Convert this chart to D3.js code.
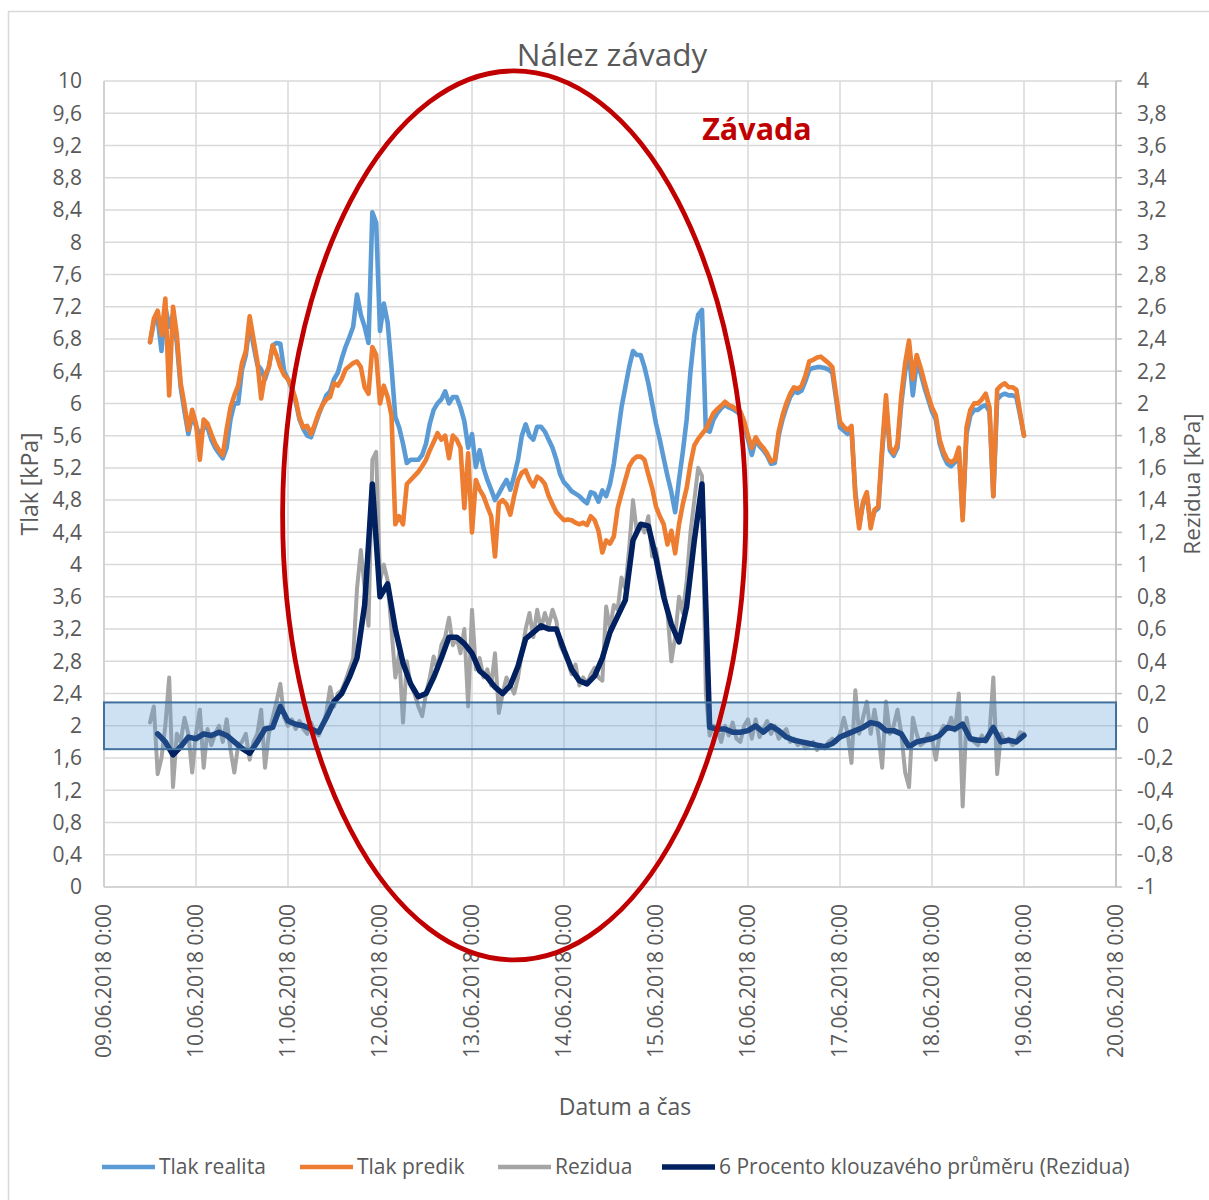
<!DOCTYPE html>
<html>
<head>
<meta charset="utf-8">
<script src="https://cdn.jsdelivr.net/npm/d3@7"></script>
<style>
  html, body { margin: 0; padding: 0; background: #fff; }
  svg { display: block; }
  text { font-family: "Open Sans", Lato, sans-serif; fill: #595959; }
</style>
</head>
<body>
<svg id="chart" width="1209" height="1200"></svg>
<script>
// Hourly measurements, starting 09.06.2018 12:00
const seriesStart = Date.UTC(2018, 5, 9, 12);
const stepHours = 1;
// the moving-average trend is stored every 2 hours from the same start
const trendStepHours = 2;

// Measured pressure [kPa]
const tlakRealita = [
  6.76, 7.0, 7.05, 6.65, 7.2, 6.95, 7.1, 6.75, 6.2, 5.9, 5.62, 5.85,
  5.72, 5.6, 5.7, 5.7, 5.55, 5.45, 5.38, 5.32, 5.45, 5.8, 6.0, 6.0,
  6.42, 6.6, 6.98, 6.72, 6.48, 6.42, 6.3, 6.45, 6.72, 6.75, 6.74, 6.4,
  6.3, 6.18, 6.02, 5.8, 5.68, 5.6, 5.58, 5.72, 5.86, 5.98, 6.1, 6.15,
  6.3, 6.38, 6.55, 6.7, 6.82, 6.95, 7.35, 7.1, 6.95, 6.75, 8.37, 8.24,
  6.9, 7.24, 7.0, 6.45, 5.83, 5.7, 5.5, 5.26, 5.3, 5.3, 5.3, 5.36,
  5.5, 5.75, 5.92, 6.0, 6.05, 6.15, 6.0, 6.08, 6.08, 5.95, 5.78, 5.45,
  5.62, 5.21, 5.42, 5.2, 5.05, 4.93, 4.8, 4.88, 4.97, 5.05, 4.93, 5.1,
  5.3, 5.6, 5.74, 5.6, 5.55, 5.71, 5.71, 5.65, 5.55, 5.45, 5.3, 5.12,
  5.02, 4.97, 4.91, 4.88, 4.85, 4.8, 4.76, 4.9, 4.88, 4.78, 4.92, 4.85,
  5.0, 5.25, 5.6, 5.95, 6.2, 6.45, 6.65, 6.6, 6.6, 6.45, 6.25, 6.0,
  5.75, 5.55, 5.32, 5.1, 4.9, 4.65, 5.05, 5.4, 5.8, 6.4, 6.85, 7.1,
  7.16, 5.67, 5.65, 5.8, 5.88, 5.94, 5.98, 5.95, 5.93, 5.9, 5.86, 5.74,
  5.55, 5.36, 5.55, 5.47, 5.42, 5.35, 5.25, 5.26, 5.6, 5.8, 5.95, 6.08,
  6.15, 6.13, 6.16, 6.28, 6.42, 6.44, 6.45, 6.45, 6.44, 6.42, 6.38, 6.05,
  5.7, 5.66, 5.62, 5.67, 4.9, 4.5, 4.75, 4.85, 4.5, 4.66, 4.7, 5.4,
  6.0, 5.42, 5.35, 5.45, 6.0, 6.4, 6.62, 6.1, 6.5, 6.38, 6.2, 6.05,
  5.9, 5.8, 5.5, 5.35, 5.25, 5.22, 5.27, 5.42, 4.6, 5.62, 5.85, 5.92,
  5.92, 5.96, 5.98, 5.9, 4.85, 6.05, 6.1, 6.12, 6.1, 6.1, 6.08, 5.85,
  5.6
];

// Predicted pressure [kPa]
const tlakPredik = [
  6.76, 7.05, 7.15, 6.85, 7.3, 6.1, 7.2, 6.85, 6.25, 5.98, 5.67, 5.92,
  5.75, 5.3, 5.8, 5.75, 5.62, 5.5, 5.42, 5.36, 5.68, 5.95, 6.1, 6.22,
  6.5, 6.65, 7.08, 6.8, 6.52, 6.06, 6.35, 6.45, 6.72, 6.6, 6.45, 6.35,
  6.3, 6.2, 6.05, 5.82, 5.7, 5.72, 5.62, 5.74, 5.88, 5.98, 6.05, 6.08,
  6.25, 6.22, 6.3, 6.42, 6.46, 6.5, 6.52, 6.45, 6.2, 6.12, 6.7, 6.6,
  6.0, 6.22, 6.08, 5.85, 4.5, 4.6, 4.5, 5.0, 5.05, 5.1, 5.15, 5.22,
  5.3, 5.42, 5.52, 5.63, 5.55, 5.6, 5.32, 5.6, 5.55, 5.45, 4.7, 5.38,
  4.4, 5.05, 4.93, 4.85, 4.72, 4.6, 4.1, 4.76, 4.8, 4.75, 4.62, 4.85,
  5.05, 5.14, 5.17, 5.05, 4.97, 5.09, 5.06, 5.0, 4.85, 4.75, 4.65, 4.6,
  4.55, 4.56, 4.55, 4.52, 4.5, 4.52, 4.49, 4.6, 4.55, 4.42, 4.15, 4.3,
  4.26, 4.35, 4.7, 4.88, 5.05, 5.22, 5.3, 5.34, 5.34, 5.3, 5.12, 4.95,
  4.72, 4.6, 4.5, 4.25, 4.42, 4.14, 4.5, 4.75, 4.95, 5.25, 5.48, 5.56,
  5.62, 5.68, 5.78, 5.88, 5.93, 5.97, 6.02, 5.98, 5.96, 5.92, 5.9, 5.78,
  5.6, 5.45, 5.58, 5.5, 5.45, 5.38, 5.28, 5.3, 5.65, 5.85, 6.0, 6.12,
  6.2, 6.18, 6.22, 6.35, 6.52, 6.54, 6.57, 6.58, 6.54, 6.5, 6.45, 6.1,
  5.77, 5.71, 5.67, 5.72, 4.85, 4.45, 4.78, 4.9, 4.45, 4.68, 4.72, 5.46,
  6.1, 5.46, 5.38, 5.5, 6.1, 6.5, 6.78, 6.3, 6.6, 6.45, 6.27, 6.1,
  5.95, 5.85, 5.55, 5.4, 5.3, 5.27, 5.3, 5.45, 4.55, 5.7, 5.92, 6.0,
  6.0, 6.05, 6.12, 5.95, 4.85, 6.17, 6.22, 6.25, 6.2, 6.2, 6.17, 5.88,
  5.6
];

// Residuals [kPa], secondary axis
const rezidua = [
  0.02, 0.12, -0.3, -0.2, 0.0, 0.3, -0.38, -0.05, -0.1, 0.05, -0.05, -0.29,
  -0.05, 0.1, -0.26, -0.02, -0.12, -0.05, 0.0, -0.1, 0.04, -0.15, -0.29, -0.12,
  -0.1, -0.05, -0.21, -0.1, -0.05, 0.1, -0.26, -0.05, 0.05, 0.15, 0.26, 0.05,
  0.0, 0.04, -0.02, 0.03, -0.02, -0.05, 0.02, -0.04, -0.06, 0.0, 0.08, 0.24,
  0.12, 0.2, 0.22, 0.28, 0.35, 0.42, 0.85, 1.09, 0.85, 0.62, 1.65, 1.7,
  0.9, 1.0, 0.9, 0.6, 0.3, 0.45, 0.02, 0.4, 0.25, 0.2, 0.12, 0.06,
  0.2, 0.3, 0.43, 0.35, 0.5, 0.55, 0.67, 0.5, 0.55, 0.45, 0.6, 0.12,
  0.72, 0.35, 0.42, 0.3, 0.35, 0.25, 0.45, 0.08, 0.2, 0.3, 0.25, 0.2,
  0.3, 0.45, 0.6, 0.7, 0.55, 0.72, 0.6, 0.7, 0.62, 0.72, 0.65, 0.5,
  0.45, 0.4, 0.32, 0.38, 0.25, 0.3, 0.26, 0.32, 0.36, 0.3, 0.28, 0.74,
  0.6, 0.75, 0.72, 0.92, 0.85, 1.1, 1.4, 1.2, 1.25, 1.2, 1.3, 1.05,
  1.1, 0.95, 0.85, 0.7, 0.4, 0.55, 0.8, 0.7, 0.9, 1.2, 1.4, 1.6,
  1.55, 0.2, -0.06, 0.0, -0.02, -0.1, 0.0, -0.06, 0.02, -0.08, -0.1, 0.0,
  0.04, -0.08, 0.04, -0.07, -0.02, 0.03, -0.05, 0.0, -0.08, -0.05, -0.02, -0.1,
  -0.08, -0.12, -0.1, -0.14, -0.12, -0.1, -0.15, -0.12, -0.14, -0.1, -0.08, -0.1,
  -0.05, 0.05, -0.05, -0.23, 0.22, -0.05, 0.05, 0.15, -0.05, 0.1, -0.05, -0.26,
  0.15, -0.05, 0.0, 0.1, -0.05, -0.29, -0.38, 0.05, -0.05, -0.12, -0.1, -0.05,
  -0.08, -0.21, -0.05, 0.0, -0.02, 0.05, -0.03, 0.2, -0.5, 0.05, -0.08, -0.1,
  -0.12, -0.06, -0.1, -0.05, 0.3, -0.3, -0.05, -0.1, -0.08, -0.12, -0.1, -0.04,
  -0.05
];

// 6-period moving average of the residuals (2-hour steps)
const rezidua6 = [
  null, -0.05, -0.1, -0.18, -0.13, -0.07, -0.08, -0.05, -0.06, -0.04, -0.06, -0.1,
  -0.14, -0.17, -0.1, -0.02, -0.01, 0.12, 0.03, 0.01, 0.0, -0.02, -0.04, 0.05,
  0.15, 0.2, 0.3, 0.42, 0.75, 1.5, 0.8, 0.88, 0.6, 0.39, 0.26, 0.18,
  0.2, 0.3, 0.42, 0.55, 0.55, 0.51, 0.45, 0.34, 0.3, 0.24, 0.2, 0.25,
  0.37, 0.54, 0.58, 0.62, 0.6, 0.6, 0.47, 0.35, 0.28, 0.26, 0.31, 0.42,
  0.58, 0.68, 0.78, 1.15, 1.25, 1.24, 1.04, 0.8, 0.63, 0.52, 0.74, 1.15,
  1.5, -0.01, -0.02, -0.02, -0.04, -0.04, -0.03, 0.0, -0.04, 0.0, -0.03, -0.07,
  -0.09, -0.1, -0.11, -0.12, -0.13, -0.11, -0.07, -0.05, -0.03, -0.01, 0.02, 0.01,
  -0.03, -0.03, -0.05, -0.13, -0.1, -0.09, -0.08, -0.06, -0.01, -0.02, 0.01, -0.08,
  -0.09, -0.09, -0.01, -0.1, -0.09, -0.1, -0.06
];

const seriesNames = ["Tlak realita", "Tlak predik", "Rezidua", "6 Procento klouzavého průměru (Rezidua)"];
const seriesColors = ["#5b9bd5", "#ed7d31", "#a5a5a5", "#002060"];

const leftTicks = [0, 0.4, 0.8, 1.2, 1.6, 2, 2.4, 2.8, 3.2, 3.6, 4, 4.4, 4.8, 5.2, 5.6, 6, 6.4, 6.8, 7.2, 7.6, 8, 8.4, 8.8, 9.2, 9.6, 10];
const rightTicks = [-1, -0.8, -0.6, -0.4, -0.2, 0, 0.2, 0.4, 0.6, 0.8, 1, 1.2, 1.4, 1.6, 1.8, 2, 2.2, 2.4, 2.6, 2.8, 3, 3.2, 3.4, 3.6, 3.8, 4];
const dayTicks = d3.utcDay.range(Date.UTC(2018, 5, 9), Date.UTC(2018, 5, 20, 1));

// Tolerance band of the residuals and the marked fault zone
const okBand = [-0.145, 0.145];
const faultZone = { center: Date.UTC(2018, 5, 13, 11), value: 4.61, halfHours: 60.4, halfValue: 5.515 };

const hourMs = 3600e3;
const timeAt = step => (_, i) => new Date(seriesStart + i * step * hourMs);

// ---- layout ----
const plot = { left: 104, right: 1116, top: 81, bottom: 887 };
const svg = d3.select("#chart");

const x = d3.scaleUtc().domain([Date.UTC(2018, 5, 9), Date.UTC(2018, 5, 20)]).range([plot.left, plot.right]);
const yL = d3.scaleLinear().domain([0, 10]).range([plot.bottom, plot.top]);
const yR = d3.scaleLinear().domain([-1, 4]).range([plot.bottom, plot.top]);

const cz = d3.formatLocale({ decimal: ",", thousands: " ", grouping: [3], currency: ["", " Kč"], minus: "-" });
const num = cz.format(".1~f");
const dateFmt = d3.utcFormat("%d.%m.%Y %-H:%M");

// chart area border
svg.append("rect").attr("x", 8.5).attr("y", 11.5).attr("width", 1230).attr("height", 1230)
  .attr("fill", "#fff").attr("stroke", "#d9d9d9").attr("stroke-width", 1.5);

// gridlines
const grid = svg.append("g");
grid.selectAll("line.h").data(leftTicks).join("line")
  .attr("x1", plot.left).attr("x2", plot.right)
  .attr("y1", d => yL(d)).attr("y2", d => yL(d))
  .attr("stroke", "#d9d9d9").attr("stroke-width", 1.5);
grid.selectAll("line.v").data(dayTicks).join("line")
  .attr("x1", d => x(d)).attr("x2", d => x(d))
  .attr("y1", plot.top).attr("y2", plot.bottom)
  .attr("stroke", "#d9d9d9").attr("stroke-width", 1.5);

// axis lines
svg.append("line").attr("x1", plot.left).attr("x2", plot.right).attr("y1", plot.bottom).attr("y2", plot.bottom)
  .attr("stroke", "#cfcfcf").attr("stroke-width", 1.6);
svg.append("line").attr("x1", plot.left).attr("x2", plot.left).attr("y1", plot.top).attr("y2", plot.bottom)
  .attr("stroke", "#cfcfcf").attr("stroke-width", 1.6);
svg.append("line").attr("x1", plot.right).attr("x2", plot.right).attr("y1", plot.top).attr("y2", plot.bottom)
  .attr("stroke", "#bfbfbf").attr("stroke-width", 1.6);
svg.append("g").selectAll("line").data(rightTicks).join("line")
  .attr("x1", plot.right).attr("x2", plot.right + 6)
  .attr("y1", d => yR(d)).attr("y2", d => yR(d))
  .attr("stroke", "#bfbfbf").attr("stroke-width", 1.5);

// tick labels
svg.append("g").selectAll("text").data(leftTicks).join("text")
  .attr("x", 82).attr("y", d => yL(d)).attr("dy", "0.35em")
  .attr("text-anchor", "end").style("font-size", "21px").text(d => num(d));
svg.append("g").selectAll("text").data(rightTicks).join("text")
  .attr("x", 1137).attr("y", d => yR(d)).attr("dy", "0.35em")
  .attr("text-anchor", "start").style("font-size", "21px").text(d => num(d));
svg.append("g").selectAll("text").data(dayTicks).join("text")
  .attr("transform", d => `translate(${x(d)},${plot.bottom + 17}) rotate(-90)`)
  .attr("dy", "0.35em").attr("text-anchor", "end").style("font-size", "21px")
  .text(d => dateFmt(d));

// series
const line = (yScale, values, step) => {
  const t = values.map(timeAt(step));
  return d3.line()
    .defined((d, i) => values[i] != null)
    .x((d, i) => x(t[i]))
    .y((d, i) => yScale(values[i]));
};

const seriesDefs = [
  { values: tlakRealita, scale: yL, step: stepHours, width: 4.6 },
  { values: tlakPredik, scale: yL, step: stepHours, width: 4.6 },
  { values: rezidua, scale: yR, step: stepHours, width: 4 },
  { values: rezidua6, scale: yR, step: trendStepHours, width: 5.5 }
];
seriesDefs.forEach((s, k) => {
  svg.append("path").datum(s.values)
    .attr("d", line(s.scale, s.values, s.step))
    .attr("fill", "none").attr("stroke", seriesColors[k])
    .attr("stroke-width", s.width).attr("stroke-linejoin", "round").attr("stroke-linecap", "round");
});

// tolerance band
svg.append("rect")
  .attr("x", plot.left).attr("width", plot.right - plot.left)
  .attr("y", yR(okBand[1])).attr("height", yR(okBand[0]) - yR(okBand[1]))
  .attr("fill", "rgba(91,155,213,0.3)").attr("stroke", "#41719c").attr("stroke-width", 2);

// fault zone
const fzCx = x(faultZone.center);
const fzCy = yL(faultZone.value);
svg.append("ellipse")
  .attr("cx", fzCx).attr("cy", fzCy)
  .attr("rx", x(faultZone.center + faultZone.halfHours * hourMs) - fzCx)
  .attr("ry", yL(faultZone.value - faultZone.halfValue) - fzCy)
  .attr("fill", "none").attr("stroke", "#c00000").attr("stroke-width", 4.8);

svg.append("text").attr("x", 757).attr("y", 140).attr("text-anchor", "middle")
  .style("font-size", "30.5px").style("font-weight", "bold").style("fill", "#c00000")
  .text("Závada");

// titles
svg.append("text").attr("x", 612).attr("y", 66).attr("text-anchor", "middle")
  .style("font-size", "31.5px").text("Nález závady");
svg.append("text").attr("x", 625).attr("y", 1115).attr("text-anchor", "middle")
  .style("font-size", "23px").text("Datum a čas");
svg.append("text").attr("transform", "translate(30,484) rotate(-90)").attr("dy", "0.35em")
  .attr("text-anchor", "middle").style("font-size", "23px").text("Tlak [kPa]");
svg.append("text").attr("transform", "translate(1193,484) rotate(-90)").attr("dy", "0.32em")
  .attr("text-anchor", "middle").style("font-size", "22.5px").text("Rezidua [kPa]");

// legend
const legendX = [102, 300, 498, 662];
const legend = svg.append("g");
seriesNames.forEach((name, k) => {
  legend.append("line").attr("x1", legendX[k]).attr("x2", legendX[k] + 53)
    .attr("y1", 1167).attr("y2", 1167)
    .attr("stroke", seriesColors[k]).attr("stroke-width", k === 3 ? 5.5 : 4.6);
  legend.append("text").attr("x", legendX[k] + 57).attr("y", 1167).attr("dy", "0.35em")
    .style("font-size", "21px").text(name);
});
</script>
</body>
</html>
